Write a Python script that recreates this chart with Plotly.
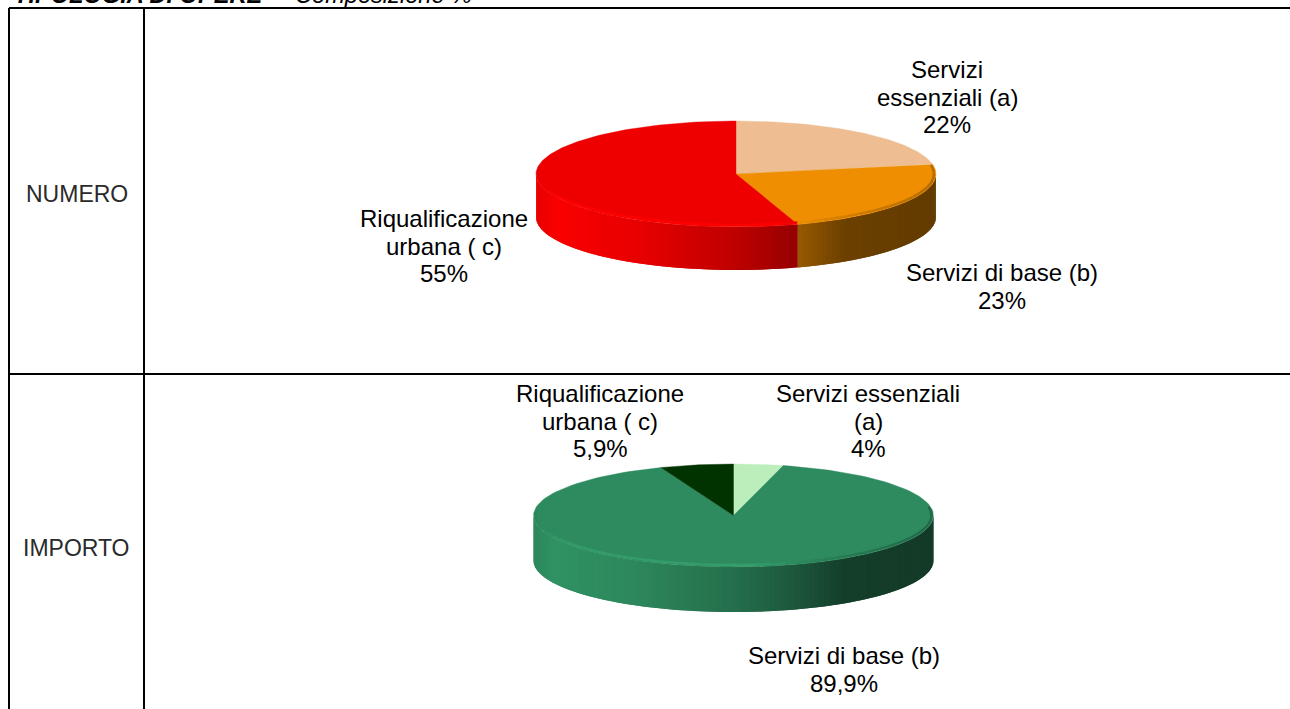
import numpy as np
import plotly.graph_objects as go

# ---- data ----
numero_labels = [["Servizi", "essenziali (a)"], ["Servizi di base (b)"], ["Riqualificazione", "urbana ( c)"]]
numero_values = [22, 23, 55]
numero_texts = ["22%", "23%", "55%"]
numero_colors = [(238, 189, 145), (238, 142, 0), (238, 0, 0)]

importo_labels = [["Servizi essenziali", "(a)"], ["Servizi di base (b)"], ["Riqualificazione", "urbana ( c)"]]
importo_values = [4, 89.9, 5.9]
importo_texts = ["4%", "89,9%", "5,9%"]
importo_colors = [(187, 238, 187), (46, 139, 95), (0, 51, 0)]

row_titles = ["NUMERO", "IMPORTO"]

SHADE_U = [-1.0, -0.9, -0.5, 0.0, 0.31, 0.55, 1.0]
SHADE_F = [0.97, 1.05, 0.98, 0.80, 0.63, 0.45, 0.42]

fig = go.Figure()


def rgb(c, f=1.0):
    return "rgb(%d,%d,%d)" % tuple(int(min(255, max(0, v * f))) for v in c)


def draw_pie(values, colors, cx, cy, rx, ry, depth):
    total = float(sum(values))
    edges = np.concatenate([[0], np.cumsum(values)]) / total * 2 * np.pi

    def px(t):
        return cx + rx * np.sin(t)

    def py(t):
        return cy - ry * np.cos(t)

    # side wall, split into narrow overlapping strips to give the horizontal gradient
    for i, col in enumerate(colors):
        a = max(edges[i], np.pi / 2)
        b = min(edges[i + 1], 3 * np.pi / 2)
        if b <= a:
            continue
        n = max(1, int(np.degrees(b - a) / 1.5))
        bounds = np.linspace(a, b, n + 1)
        for s, e in zip(bounds[:-1], bounds[1:]):
            tt = np.linspace(s, min(b, e + np.radians(1.5)), 5)
            xs = np.concatenate([px(tt), px(tt[::-1])])
            ys = np.concatenate([py(tt), py(tt[::-1]) + depth])
            f = np.interp(np.sin((s + e) / 2), SHADE_U, SHADE_F)
            fig.add_trace(go.Scatter(x=xs, y=ys, mode="lines", fill="toself", fillcolor=rgb(col, f),
                                     line=dict(width=0), hoverinfo="skip", showlegend=False))

    # top face
    for i, col in enumerate(colors):
        tt = np.linspace(edges[i], edges[i + 1], 160)
        xs = np.concatenate([[cx], px(tt), [cx]])
        ys = np.concatenate([[cy], py(tt), [cy]])
        fig.add_trace(go.Scatter(x=xs, y=ys, mode="lines", fill="toself", fillcolor=rgb(col),
                                 line=dict(color=rgb(col), width=0.4), hoverinfo="skip", showlegend=False))

    # bevelled rim along the front of the top face
    for i, col in enumerate(colors):
        a = max(edges[i], np.radians(80))
        b = min(edges[i + 1], np.radians(278))
        if b <= a:
            continue
        n = max(1, int(np.degrees(b - a) / 4))
        bounds = np.linspace(a, b, n + 1)
        for s, e in zip(bounds[:-1], bounds[1:]):
            tt = np.linspace(s, e, 4)
            u = np.sin((s + e) / 2)
            f = np.interp(u, [-1, -0.85, 0.1, 0.45, 1], [0.97, 1.12, 1.14, 0.92, 0.75])
            fig.add_trace(go.Scatter(x=cx + (rx - 2) * np.sin(tt), y=cy - (ry - 2) * np.cos(tt),
                                     mode="lines", line=dict(color=rgb(col, f), width=2.4),
                                     hoverinfo="skip", showlegend=False))


draw_pie(numero_values, numero_colors, 736, 174, 200, 53, 43)
draw_pie(importo_values, importo_colors, 733.5, 515.5, 200, 51.5, 45)

annotations = []


def text_block(lines, x, y, size=24, spacing=27.5, family="Liberation Sans", color="#000000"):
    for k, line in enumerate(lines):
        annotations.append(dict(x=x, y=y + k * spacing, text=line, xref="x", yref="y", showarrow=False,
                                xanchor="center", yanchor="middle",
                                font=dict(family=family, size=size, color=color)))


text_block(numero_labels[0] + [numero_texts[0]], 947, 69.5)
text_block(numero_labels[1] + [numero_texts[1]], 1002, 272.5)
text_block(numero_labels[2] + [numero_texts[2]], 444, 218.5)
text_block(importo_labels[0] + [importo_texts[0]], 868, 393.5)
text_block(importo_labels[1] + [importo_texts[1]], 844, 655.5)
text_block(importo_labels[2] + [importo_texts[2]], 600, 393.5)
text_block([row_titles[0]], 76.5, 194, size=23, color="#2a2a2a")
text_block([row_titles[1]], 76.5, 548, size=23, color="#2a2a2a")

annotations.append(dict(x=12 / 1290, y=1 + 5 / 709, xref="paper", yref="paper", showarrow=False,
                        xanchor="left", yanchor="middle",
                        text="<b><i>TIPOLOGIA DI OPERE</i></b> <i>–  Composizione %</i>",
                        font=dict(family="Liberation Sans", size=23.6, color="#000000")))

shapes = []
for x0, y0, x1, y1 in [(9, 8, 1290, 8), (9, 374, 1290, 374), (9, 8, 9, 709), (144, 8, 144, 709)]:
    shapes.append(dict(type="line", x0=x0, y0=y0, x1=x1, y1=y1, xref="x", yref="y",
                       line=dict(color="#000000", width=2)))

fig.update_layout(
    width=1290, height=709, margin=dict(l=0, r=0, t=0, b=0),
    paper_bgcolor="#ffffff", plot_bgcolor="#ffffff", showlegend=False,
    xaxis=dict(range=[0, 1290], visible=False, fixedrange=True),
    yaxis=dict(range=[709, 0], visible=False, fixedrange=True),
    annotations=annotations, shapes=shapes,
)

fig.write_html("out.html", config={"displayModeBar": False},
               post_script="document.body.style.margin='0';document.body.style.overflow='hidden';")
